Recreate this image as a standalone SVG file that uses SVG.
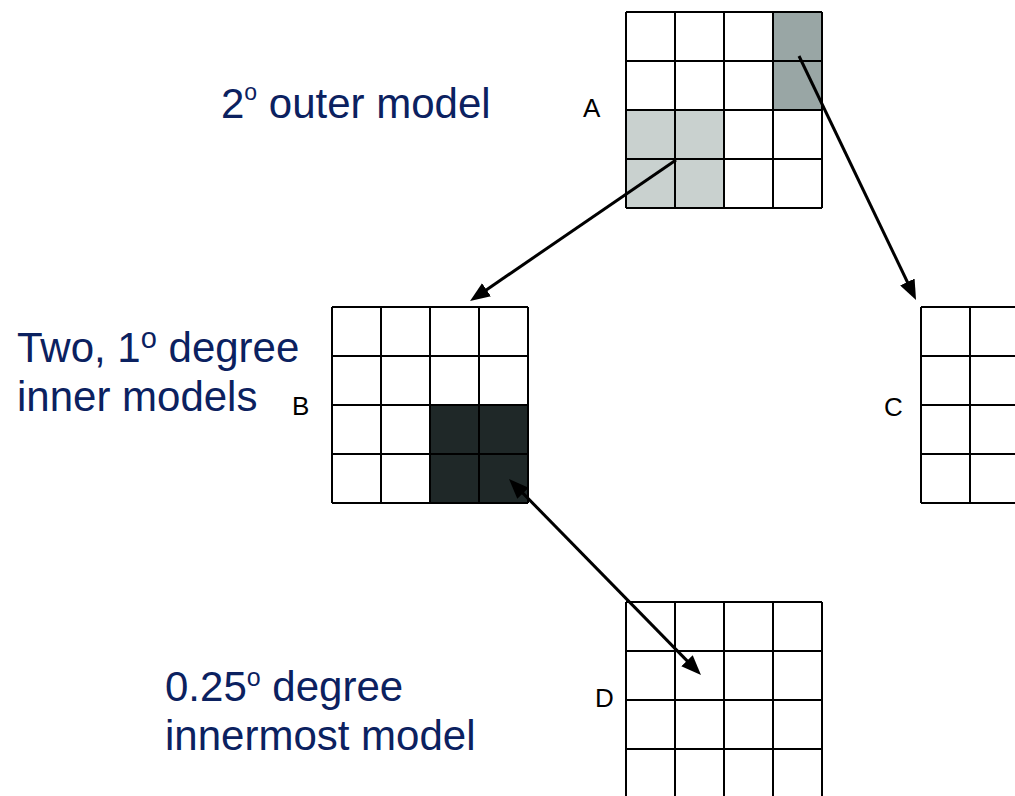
<svg xmlns="http://www.w3.org/2000/svg" width="1015" height="796" viewBox="0 0 1015 796">
  <style>
    .cap { font-family: "Liberation Sans", Arial, sans-serif; font-size: 42px; fill: #0b2160; }
    .lbl { font-family: "Liberation Sans", Arial, sans-serif; font-size: 26px; fill: #000; }
    .grid { fill: none; stroke: #000; stroke-width: 2; }
    .conn { stroke: #000; stroke-width: 3; fill: none; }
  </style>
  <defs>
    <marker id="ah" viewBox="0 0 20 16" refX="10" refY="8" markerWidth="20" markerHeight="16" markerUnits="userSpaceOnUse" orient="auto-start-reverse">
      <path d="M0,0 L20,8 L0,16 z" fill="#000"/>
    </marker>
  </defs>
  <rect width="1015" height="796" fill="#fff"/>

  <g id="gridA">
    <rect x="773" y="12" width="49" height="98" fill="#99a6a5"/>
    <rect x="626" y="110" width="98" height="98" fill="#c9d1cf"/>
    <path class="grid" d="M626,12 V208 M675,12 V208 M724,12 V208 M773,12 V208 M822,12 V208 M626,12 H822 M626,61 H822 M626,110 H822 M626,159 H822 M626,208 H822"/>
    <text class="lbl" x="583" y="117">A</text>
  </g>

  <g id="gridB">
    <rect x="430" y="405" width="98" height="98" fill="#1f2828"/>
    <path class="grid" d="M332,307 V503 M381,307 V503 M430,307 V503 M479,307 V503 M528,307 V503 M332,307 H528 M332,356 H528 M332,405 H528 M332,454 H528 M332,503 H528"/>
    <text class="lbl" x="292" y="415">B</text>
  </g>

  <g id="gridC">
    <path class="grid" d="M921,307 V503 M970,307 V503 M1019,307 V503 M921,307 H1117 M921,356 H1117 M921,405 H1117 M921,454 H1117 M921,503 H1117"/>
    <text class="lbl" x="884" y="416">C</text>
  </g>

  <g id="gridD">
    <path class="grid" d="M626,602 V800 M675,602 V800 M724,602 V800 M773,602 V800 M822,602 V800 M626,602 H822 M626,651 H822 M626,700 H822 M626,749 H822"/>
    <text class="lbl" x="595" y="707">D</text>
  </g>

  <g id="captions">
    <text class="cap" x="221" y="118">2<tspan font-size="23" dy="-18">o</tspan><tspan dy="18"> outer model</tspan></text>
    <text class="cap" x="17" y="362">Two, 1<tspan font-size="29" dy="-14">o</tspan><tspan dy="14"> degree</tspan></text>
    <text class="cap" x="17" y="411">inner models</text>
    <text class="cap" x="165" y="701">0.25<tspan font-size="25" dy="-15">o</tspan><tspan dy="15"> degree</tspan></text>
    <text class="cap" x="165" y="750">innermost model</text>
  </g>

  <g id="connectors">
    <line class="conn" x1="676" y1="160" x2="478.3" y2="295.4" marker-end="url(#ah)"/>
    <line class="conn" x1="799" y1="56" x2="911.7" y2="291" marker-end="url(#ah)"/>
    <line class="conn" x1="516" y1="486.1" x2="694" y2="667.9" marker-start="url(#ah)" marker-end="url(#ah)"/>
  </g>
</svg>
